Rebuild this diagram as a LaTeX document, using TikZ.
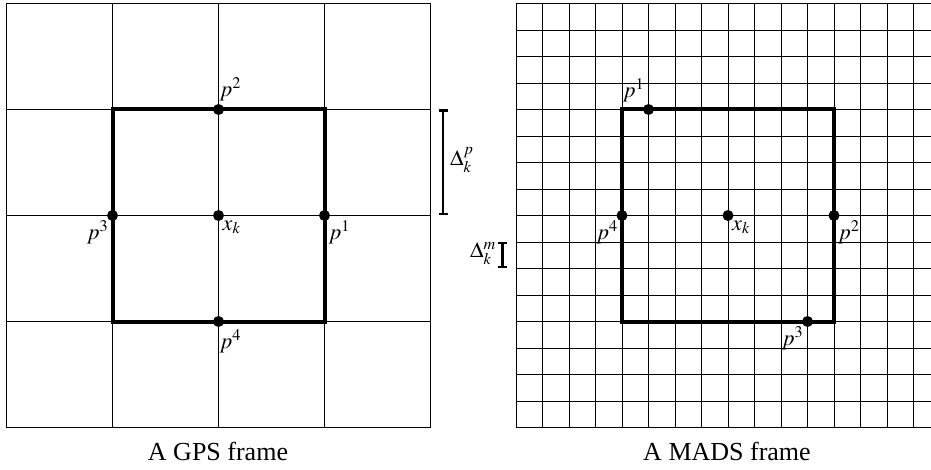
\documentclass[tikz,border=0pt]{standalone}
\usepackage{mathptmx}
\usepackage[no-math]{fontspec}
\setmainfont{Liberation Serif}
\usetikzlibrary{arrows.meta}
\tikzset{
  gridln/.style={line width=0.9pt,black},
  frame/.style={line width=4pt,black,line join=miter},
  dot/.style={circle,fill=black,minimum size=11pt,inner sep=0pt},
  lab/.style={inner sep=1pt,font=\fontsize{22}{26}\selectfont},
  caption/.style={font=\fontsize{26}{30}\selectfont,inner sep=0pt,anchor=base},
  bracket/.style={line width=2.2pt,{Bar[width=9pt]}-{Bar[width=9pt]}}
}
\begin{document}
\begin{tikzpicture}[x=1pt,y=-1pt]
\useasboundingbox (0,0) rectangle (931,470);
\begin{scope}
\clip (0,0) rectangle (931,470);
% GPS grid
\foreach \i in {0,...,4} {
  \draw[gridln] ({6.5+\i*106},3.5) -- ({6.5+\i*106},427.5);
  \draw[gridln] (6.5,{3.5+\i*106}) -- (430.5,{3.5+\i*106});
}
% MADS grid
\foreach \i in {0,...,16} {
  \draw[gridln] ({516+\i*26.5},3.5) -- ({516+\i*26.5},427.5);
  \draw[gridln] (516,{3.5+\i*26.5}) -- (940,{3.5+\i*26.5});
}
\end{scope}
% GPS frame
\coordinate (ga) at (112.5,109.5);
\coordinate (gb) at (324.5,109.5);
\coordinate (gc) at (324.5,321.5);
\coordinate (gd) at (112.5,321.5);
\draw[frame] (ga) -- (gb) -- (gc) -- (gd) -- cycle;
\node[dot] (gx) at (218.5,215.5) {};
\node[dot] (g1) at (324.5,215.5) {};
\node[dot] (g2) at (218.5,109.5) {};
\node[dot] (g3) at (112.5,215.5) {};
\node[dot] (g4) at (218.5,321.5) {};
\node[lab,anchor=north west] at ([xshift=-1pt]gx.south east) {$x_k$};
\node[lab,anchor=north west] at ([xshift=-1pt]g1.south east) {$p^1$};
\node[lab,anchor=south west] at ([xshift=-4pt,yshift=3pt]g2.north east) {$p^2$};
\node[lab,anchor=north east] at ([xshift=1pt]g3.south west) {$p^3$};
\node[lab,anchor=north west] at ([xshift=-4pt,yshift=-3pt]g4.south east) {$p^4$};
% MADS frame
\coordinate (ma) at (622,109.5);
\coordinate (mb) at (834,109.5);
\coordinate (mc) at (834,321.5);
\coordinate (md) at (622,321.5);
\draw[frame] (ma) -- (mb) -- (mc) -- (md) -- cycle;
\node[dot] (mx) at (728,215.5) {};
\node[dot] (m1) at (648.5,109.5) {};
\node[dot] (m2) at (834,215.5) {};
\node[dot] (m3) at (807.5,321.5) {};
\node[dot] (m4) at (622,215.5) {};
\node[lab,anchor=north west] at ([xshift=-1pt]mx.south east) {$x_k$};
\node[lab,anchor=south east] at ([xshift=1pt,yshift=2pt]m1.north west) {$p^1$};
\node[lab,anchor=north west] at ([xshift=-1pt]m2.south east) {$p^2$};
\node[lab,anchor=north east] at ([xshift=1pt]m3.south west) {$p^3$};
\node[lab,anchor=north east] at ([xshift=1pt]m4.south west) {$p^4$};
% brackets
\coordinate (bp1) at (443,109.5);
\coordinate (bp2) at (443,215.5);
\draw[bracket] (bp1) -- (bp2);
\node[lab,anchor=west] (dp) at (449,160) {$\Delta_k^p$};
\coordinate (bm1) at (502.5,242);
\coordinate (bm2) at (502.5,268.5);
\draw[bracket] (bm1) -- (bm2);
\node[lab,anchor=east] (dm) at (497,254) {$\Delta_k^m$};
% captions
\node[caption] (c1) at (218,460) {A GPS frame};
\node[caption] (c2) at (727,460) {A MADS frame};
\end{tikzpicture}
\end{document}
